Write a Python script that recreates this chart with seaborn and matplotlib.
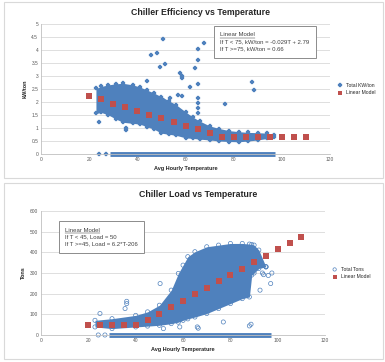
import numpy as np
import pandas as pd
import matplotlib.pyplot as plt
import seaborn as sns
from matplotlib.patches import Rectangle

# ---- data ----
# linear model points (red squares)
model_temp = [20, 25, 30, 35, 40, 45, 50, 55, 60, 65, 70, 75, 80, 85, 90, 95, 100, 105, 110]
model_kw = [2.22, 2.10, 1.94, 1.79, 1.64, 1.51, 1.37, 1.23, 1.08, 0.95, 0.81,
            0.67, 0.67, 0.67, 0.67, 0.67, 0.67, 0.67, 0.67]
model_load = [50, 50, 50, 50, 50, 73, 104, 135, 166, 197, 228, 259, 290, 321, 352, 383, 414, 445, 476]

# dense cloud of kW/ton readings: envelope by temperature
kw_env_t = [22.8, 25, 28, 31, 34, 38, 41, 44, 47, 50, 53, 56, 60, 63, 66, 70, 74, 78, 82, 86, 90, 94, 96.5]
kw_env_hi = [2.52, 2.6, 2.66, 2.7, 2.72, 2.66, 2.58, 2.46, 2.34, 2.2, 2.05, 1.9, 1.62, 1.42, 1.26, 1.08, 0.98, 0.9, 0.86, 0.83, 0.82, 0.8, 0.73]
kw_env_lo = [1.56, 1.6, 1.5, 1.35, 1.22, 1.18, 1.15, 1.05, 0.95, 0.8, 0.76, 0.72, 0.62, 0.6, 0.57, 0.54, 0.5, 0.48, 0.47, 0.5, 0.54, 0.6, 0.64]

# scattered kW/ton outliers
kw_out_t = [50.5, 67.8, 48.0, 45.5, 65.0, 65.0, 49.4, 51.5, 64.0, 57.7, 58.4, 58.4, 43.9, 87.5,
            88.2, 61.9, 65.0, 57.0, 58.4, 53.6, 50.8, 65.0, 65.0, 65.0, 65.0, 76.4, 24.2, 35.3, 35.3,
            24.2, 27.0]
kw_out_v = [4.41, 4.26, 3.9, 3.79, 4.03, 3.62, 3.36, 3.46, 3.3, 3.13, 3.0, 2.91, 2.82, 2.76,
            2.46, 2.59, 2.68, 2.27, 2.23, 2.17, 2.08, 2.14, 1.95, 1.76, 1.56, 1.91, 1.22, 0.99, 0.92,
            0.0, 0.0]

# dense cloud of load readings (tons): envelope by temperature
ld_env_t = [22.8, 30, 40, 45, 50, 55, 58, 60, 62, 65, 70, 75, 80, 85, 88, 89, 90, 92, 95]
ld_env_hi = [71, 79, 95, 112, 144, 217, 298, 338, 379, 403, 427, 435, 443, 443, 440, 438, 435, 411, 330]
ld_env_lo = [39, 31, 39, 43, 47, 55, 62, 71, 78, 87, 104, 128, 152, 176, 184, 290, 300, 322, 330]

# scattered load outliers
ld_out_t = [50.3, 36.2, 36.2, 35.5, 24.9, 77.0, 88.0, 88.7, 66.0, 66.4, 58.6, 51.7, 94.0, 96.0,
            95.0, 97.0, 92.5, 93.5, 97.5, 24.2, 27.0]
ld_out_v = [249, 163, 152, 128, 104, 63, 44, 52, 39, 33, 39, 31, 292, 288, 330, 249, 217, 300, 300,
            0, 0]

# rows of zero readings (temperature span)
zero_span = [28.6, 97.2]

blue = '#4f81bd'
red = '#c0504d'
grid = '#d9d9d9'

sns.set_style('white')
plt.rcParams['font.family'] = ['Liberation Sans', 'DejaVu Sans']

fig = plt.figure(figsize=(3.85, 3.62), dpi=100)

# chart area borders
for y0, h in [(0.508, 0.487), (0.008, 0.487)]:
    fig.patches.append(Rectangle((0.01, y0), 0.984, h, transform=fig.transFigure,
                                 fill=False, edgecolor=grid, linewidth=0.8))

ax1 = fig.add_axes([0.1065, 0.5746, 0.751, 0.359])
ax2 = fig.add_axes([0.1065, 0.0746, 0.738, 0.3425])


def style_axis(ax, ymax, ystep):
    ax.set_xlim(0, 120)
    ax.set_ylim(0, ymax)
    ax.set_xticks(range(0, 121, 20))
    ax.set_yticks(np.arange(0, ymax + ystep / 2, ystep))
    ax.grid(axis='y', color=grid, linewidth=0.6)
    ax.set_axisbelow(True)
    for s in ['top', 'right']:
        ax.spines[s].set_visible(False)
    for s in ['left', 'bottom']:
        ax.spines[s].set_color('#bfbfbf')
        ax.spines[s].set_linewidth(0.6)
    ax.tick_params(labelsize=3.5, length=0, pad=2, colors='#595959')


def finish(ax, ylabel):
    ax.set_xlabel('Avg Hourly Temperature', fontsize=4, fontweight='bold', labelpad=3)
    ax.set_ylabel(ylabel, fontsize=4, fontweight='bold', labelpad=3)
    ax.legend(loc='center left', bbox_to_anchor=(1.0, 0.5), fontsize=3.6, frameon=False,
              handletextpad=0.2, markerscale=0.8, borderaxespad=0.5)


def model_box(ax, x, y, lines):
    txt = ax.text(x, y, '\n'.join(lines), transform=ax.transAxes, fontsize=4.3, va='top',
                  ha='left', linespacing=1.45, color='#404040', zorder=7,
                  bbox=dict(boxstyle='square,pad=1.1', facecolor='white', edgecolor='#8c8c8c',
                            linewidth=0.7))
    # underline the heading: measure the first line with a throwaway text
    fig.canvas.draw()
    probe = ax.text(x, y, lines[0], transform=ax.transAxes, fontsize=4.3, va='top', ha='left')
    bb = probe.get_window_extent(fig.canvas.get_renderer())
    probe.remove()
    inv = ax.transAxes.inverted()
    (x0, y0), (x1, _) = inv.transform([[bb.x0, bb.y0 - 0.3], [bb.x1, bb.y0]])
    ax.plot([x0, x1], [y0, y0], transform=ax.transAxes, color='#404040', linewidth=0.35,
            zorder=8)
    return txt


# ---- top: efficiency ----
style_axis(ax1, 5, 0.5)
ax1.set_yticklabels(['0', '0.5', '1', '1.5', '2', '2.5', '3', '3.5', '4', '4.5', '5'])
ax1.fill_between(kw_env_t, kw_env_lo, kw_env_hi, color=blue, linewidth=0)
env1 = pd.DataFrame({'t': kw_env_t + kw_env_t, 'v': kw_env_hi + kw_env_lo})
sns.scatterplot(data=env1, x='t', y='v', ax=ax1, marker='P', s=7, color=blue,
                edgecolor=blue, linewidth=0.2)
ax1.hlines(0, zero_span[0], zero_span[1], color=blue, linewidth=3.5, clip_on=False)
out1 = pd.DataFrame({'t': kw_out_t, 'v': kw_out_v})
sns.scatterplot(data=out1, x='t', y='v', ax=ax1, marker='P', s=9, color=blue,
                edgecolor=blue, linewidth=0.2, clip_on=False, label='Total KW/ton')
m1 = pd.DataFrame({'t': model_temp, 'v': model_kw})
sns.scatterplot(data=m1, x='t', y='v', ax=ax1, marker='s', s=13, color=red,
                edgecolor=red, linewidth=0, label='Linear Model', zorder=5)
finish(ax1, 'kW/ton')
fig.text(0.52, 0.966, 'Chiller Efficiency vs Temperature', fontsize=6.3, fontweight='bold',
         ha='center', va='center', color='#262626')
model_box(ax1, 0.62, 0.935, ['Linear Model', 'If T < 75, kW/ton = -0.029T + 2.79',
                             'If T >=75, kW/ton = 0.66'])

# ---- bottom: load ----
style_axis(ax2, 600, 100)
ax2.fill_between(ld_env_t, ld_env_lo, ld_env_hi, color=blue, linewidth=0)
env2 = pd.DataFrame({'t': ld_env_t + ld_env_t, 'v': ld_env_hi + ld_env_lo})
sns.scatterplot(data=env2, x='t', y='v', ax=ax2, marker='o', s=9, facecolor='none',
                edgecolor=blue, linewidth=0.5)
ax2.hlines(0, zero_span[0], zero_span[1], color=blue, linewidth=3.5, clip_on=False)
out2 = pd.DataFrame({'t': ld_out_t, 'v': ld_out_v})
sns.scatterplot(data=out2, x='t', y='v', ax=ax2, marker='o', s=9, facecolor='none',
                edgecolor=blue, linewidth=0.5, clip_on=False, label='Total Tons')
m2 = pd.DataFrame({'t': model_temp, 'v': model_load})
sns.scatterplot(data=m2, x='t', y='v', ax=ax2, marker='s', s=13, color=red,
                edgecolor=red, linewidth=0, label='Linear Model', zorder=5)
finish(ax2, 'Tons')
fig.text(0.515, 0.463, 'Chiller Load vs Temperature', fontsize=6.3, fontweight='bold',
         ha='center', va='center', color='#262626')
model_box(ax2, 0.085, 0.865, ['Linear Model', 'If T < 45, Load = 50',
                              'If T >=45, Load = 6.2*T-206'])

fig.savefig('out.png', dpi=100)
